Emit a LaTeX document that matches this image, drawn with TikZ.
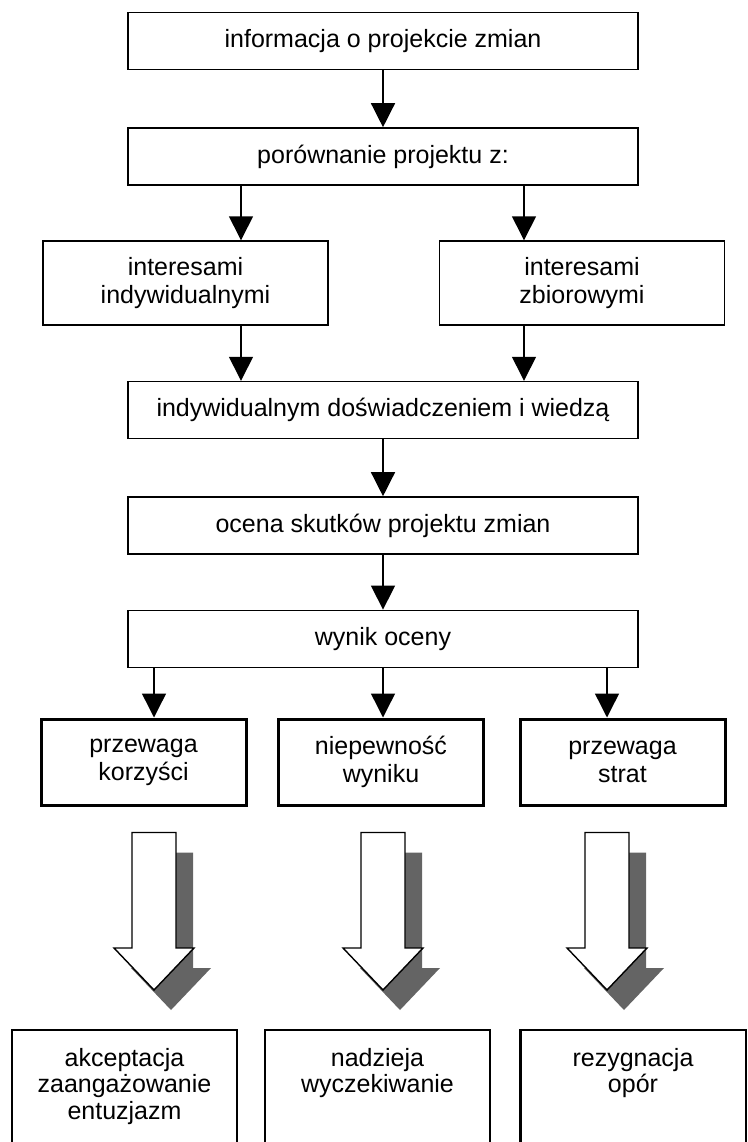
\documentclass[tikz,border=0pt]{standalone}
\usepackage{fontspec}
\setmainfont{Liberation Sans}
\usetikzlibrary{positioning,arrows.meta,calc}
\definecolor{shadowgray}{RGB}{100,100,100}
\tikzset{
    stage/.style={rectangle, draw, line width=1.4pt, minimum width=510pt, minimum height=57pt, inner sep=0pt, align=center, font=\fontsize{25}{28}\selectfont},
    branch/.style={stage, minimum width=285pt, minimum height=84pt},
    verdict/.style={stage, line width=3pt, minimum width=205pt, minimum height=86pt},
    reaction/.style={rectangle, text width=225pt, inner xsep=0pt, inner ysep=18pt, align=center, font=\fontsize{25}{26.5}\selectfont},
    reaction box/.style={draw, line width=2.4pt},
    flow arrow/.style={-{Triangle[length=24pt,width=24pt]}, line width=1.4pt},
    big arrow/.style={draw=black, fill=white, line width=1.4pt, line join=miter},
    big shadow/.style={fill=shadowgray}
}

\begin{document}
\begin{tikzpicture}[x=1pt, y=-1pt]
\useasboundingbox (0,0) rectangle (747,1142);

% main column
\node[stage] (info) at (383,41) {informacja o projekcie zmian};
\node[stage, below=57pt of info] (compare) {porównanie projektu z:};
\node[branch] (own) at (185.5,283) {interesami\\indywidualnymi};
\node[branch] (group) at (582,283) {interesami\\zbiorowymi};
\node[stage] (exper) at (383,410) {indywidualnym doświadczeniem i wiedzą};
\node[stage, below=57pt of exper] (assess) {ocena skutków projektu zmian};
\node[stage, below=55pt of assess] (result) {wynik oceny};

% three outcomes
\node[verdict] (plus) at (143.5,762) {przewaga\\korzyści};
\node[verdict] (unsure) at (381,762) {niepewność\\wyniku};
\node[verdict] (minus) at (622.5,762) {przewaga\\strat};

\node[reaction, anchor=north] (accept) at (124.5,1030) {akceptacja\\zaangażowanie\\entuzjazm};
\node[reaction, anchor=north] (hope) at (377.5,1030) {nadzieja\\wyczekiwanie};
\node[reaction, anchor=north] (resist) at (633,1030) {rezygnacja\\opór};
\foreach \r in {accept, hope, resist}
    \draw[reaction box] ($(\r.north west)+(0,170)$) |- (\r.north east) -- ++(0,170);

\coordinate (l1) at (241,0);
\coordinate (r1) at (524,0);
\coordinate (b1) at (154,0);
\coordinate (b2) at (383,0);
\coordinate (b3) at (607,0);

\draw[flow arrow] (info) -- (compare);
\draw[flow arrow] (compare.south -| l1) -- (own.north -| l1);
\draw[flow arrow] (compare.south -| r1) -- (group.north -| r1);
\draw[flow arrow] (own.south -| l1) -- (exper.north -| l1);
\draw[flow arrow] (group.south -| r1) -- (exper.north -| r1);
\draw[flow arrow] (exper) -- (assess);
\draw[flow arrow] (assess) -- (result);
\draw[flow arrow] (result.south -| b1) -- (plus.north -| b1);
\draw[flow arrow] (result.south -| b2) -- (unsure.north -| b2);
\draw[flow arrow] (result.south -| b3) -- (minus.north -| b3);

% hollow arrows with shadow
\foreach \v/\r/\b in {plus/accept/b1, unsure/hope/b2, minus/resist/b3}{
    \coordinate (top) at ($(\v.south -| \b)+(0,26)$);
    \coordinate (tip) at ($(\r.north -| \b)+(0,-40)$);
    \foreach \dx/\dy/\sty in {17/20/big shadow, 0/0/big arrow}
        \path[\sty] ($(top)+(\dx-22,\dy)$) -- ($(top)+(\dx+22,\dy)$) -- ($(tip)+(\dx+22,\dy-42)$) -- ($(tip)+(\dx+40,\dy-42)$) -- ($(tip)+(\dx,\dy)$) -- ($(tip)+(\dx-40,\dy-42)$) -- ($(tip)+(\dx-22,\dy-42)$) -- cycle;
}
\end{tikzpicture}
\end{document}
